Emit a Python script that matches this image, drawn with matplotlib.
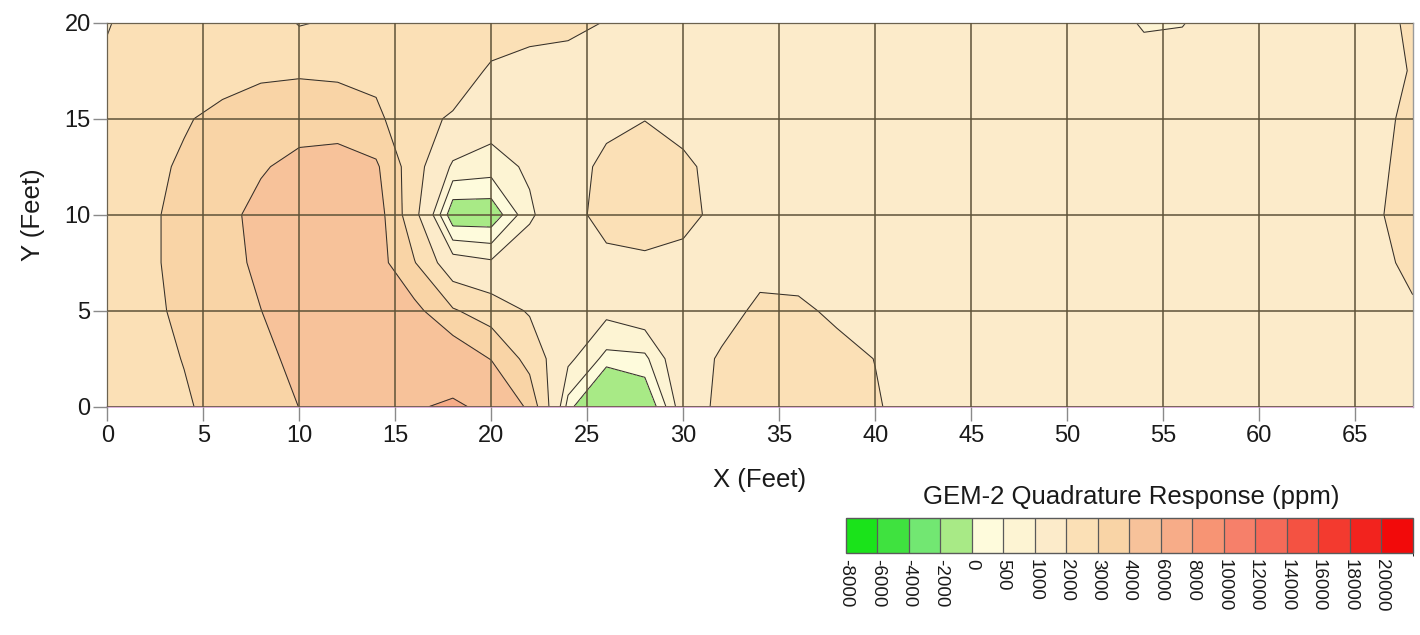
import numpy as np
import matplotlib
matplotlib.use("Agg")
import matplotlib.pyplot as plt
from matplotlib.colors import ListedColormap, BoundaryNorm

plt.rcParams['font.family'] = ['Liberation Sans', 'DejaVu Sans']

# ---------------- data ----------------
# survey grid positions (feet)
x_feet = list(range(0, 69, 2))
y_feet = [0, 2.5, 5, 7.5, 10, 12.5, 15, 17.5, 20]

# GEM-2 quadrature response (ppm), one list per survey line (y), x = 0..68 step 2
q_y00_0 = [2500, 2750, 2930, 3200, 3600, 4010, 4600, 5200, 5850, 6250, 5600, 3718, 300, -1700, -600, 1400,
           2257, 2600, 2700, 2550, 2100, 1600, 1500, 1500, 1500, 1500, 1500, 1500, 1500, 1500, 1500, 1500,
           1550, 1700, 1700]
q_y02_5 = [2400, 2800, 3020, 3400, 3800, 4200, 4600, 5000, 5100, 4850, 3950, 2650, 1140, 350, 380, 1560,
           2100, 2500, 2550, 2350, 1980, 1600, 1500, 1500, 1500, 1500, 1500, 1500, 1500, 1500, 1500, 1500,
           1500, 1700, 1700]
q_y05_0 = [2300, 2820, 3150, 3550, 3990, 4500, 4800, 4700, 4300, 3100, 2500, 1910, 1500, 1150, 1410, 1700,
           1700, 2160, 2200, 1800, 1600, 1500, 1500, 1500, 1500, 1500, 1500, 1500, 1500, 1500, 1500, 1500,
           1500, 1750, 1900]
q_y07_5 = [2250, 2900, 3150, 3650, 4200, 4700, 4800, 4450, 3050, 1300, 1090, 1450, 1600, 1750, 1850, 1700,
           1600, 1740, 1550, 1500, 1500, 1500, 1500, 1500, 1500, 1500, 1500, 1500, 1500, 1500, 1500, 1500,
           1500, 1750, 2200]
q_y10_0 = [2300, 2900, 3150, 3700, 4300, 4800, 4700, 4500, 2300, -400, -380, 890, 1640, 2360, 2450, 2300,
           1700, 1550, 1500, 1500, 1500, 1500, 1500, 1500, 1500, 1500, 1500, 1500, 1500, 1500, 1500, 1500,
           1500, 1800, 2600]
q_y12_5 = [2350, 2800, 3100, 3500, 3900, 4300, 4400, 4150, 2400, 875, 750, 1100, 1500, 2280, 2400, 2170,
           1690, 1500, 1500, 1500, 1500, 1500, 1500, 1500, 1500, 1500, 1500, 1500, 1500, 1500, 1500, 1500,
           1500, 1800, 2300]
q_y15_0 = [2300, 2650, 2930, 3200, 3400, 3550, 3570, 3200, 2330, 1880, 1270, 1400, 1600, 1700, 1980, 1700,
           1550, 1500, 1500, 1500, 1500, 1500, 1500, 1500, 1500, 1500, 1500, 1500, 1500, 1500, 1500, 1500,
           1500, 1750, 2200]
q_y17_5 = [2200, 2450, 2600, 2700, 2860, 2890, 2820, 2750, 2650, 2600, 1850, 1700, 1500, 1500, 1500, 1500,
           1500, 1500, 1500, 1500, 1500, 1500, 1500, 1500, 1500, 1500, 1500, 1500, 1500, 1500, 1500, 1500,
           1500, 1700, 2050]
q_y20_0 = [1930, 2500, 2600, 2600, 2630, 1930, 2130, 2500, 2600, 2650, 2600, 2300, 2300, 1950, 1600, 1500,
           1500, 1500, 1500, 1500, 1500, 1500, 1500, 1500, 1500, 1500, 1500, 875, 950, 1500, 1500, 1500,
           1500, 1700, 2150]

levels = [-8000, -6000, -4000, -2000, 0, 500, 1000, 2000, 3000, 4000, 6000, 8000,
          10000, 12000, 14000, 16000, 18000, 20000, 22000]
level_labels = ['-8000', '-6000', '-4000', '-2000', '0', '500', '1000', '2000', '3000', '4000',
                '6000', '8000', '10000', '12000', '14000', '16000', '18000', '20000']
band_colors = ['#1AE31A', '#3FE23F', '#72E772', '#A8EA86', '#FEFBDC', '#FDF4D3', '#FCEBCA',
               '#FBE0B6', '#F9D4A6', '#F7C29A', '#F7AC88', '#F79474', '#F6806A', '#F56A58',
               '#F45242', '#F33A2F', '#F2231E', '#F20A0A']

Z = np.array([q_y00_0, q_y02_5, q_y05_0, q_y07_5, q_y10_0, q_y12_5, q_y15_0, q_y17_5, q_y20_0], dtype=float)
X, Y = np.meshgrid(np.array(x_feet, dtype=float), np.array(y_feet, dtype=float))

cmap = ListedColormap(band_colors)
norm = BoundaryNorm(levels, cmap.N)

# ---------------- figure ----------------
W, H = 1420, 635
fig = plt.figure(figsize=(W / 100, H / 100), dpi=100)

def px(l, t, r, b):
    return [l / W, 1 - b / H, (r - l) / W, (b - t) / H]

ax = fig.add_axes(px(107.3, 22.7, 1412.7, 406.7))
cf = ax.contourf(X, Y, Z, levels=levels, cmap=cmap, norm=norm, zorder=1)
ax.contour(X, Y, Z, levels=levels, colors='#35302a', linewidths=0.75, zorder=2)

ax.set_xlim(0, 68)
ax.set_ylim(0, 20)
ax.set_xticks(range(0, 66, 5))
ax.set_yticks(range(0, 21, 5))
ax.set_axisbelow(False)
ax.grid(True, color='#5e5238', linewidth=1.1, zorder=3)
ax.tick_params(axis='both', direction='out', length=10, width=1, color='#8a8a8a',
               labelsize=17, labelcolor='#1a1a1a')
ax.tick_params(axis='y', pad=2)
ax.tick_params(axis='x', pad=3)
for side in ['top', 'left', 'right']:
    ax.spines[side].set_color('#9a9a9a')
    ax.spines[side].set_linewidth(1.0)
ax.spines['bottom'].set_color('#d6a6d6')
ax.spines['bottom'].set_linewidth(1.2)

fig.text(760 / W, 1 - 480 / H, 'X (Feet)', ha='center', va='center', fontsize=18.5, color='#1a1a1a')
fig.text(33 / W, 1 - 215 / H, 'Y (Feet)', ha='center', va='center', rotation=90,
         fontsize=18.5, color='#1a1a1a')
fig.text(1131 / W, 1 - 497 / H, 'GEM-2 Quadrature Response (ppm)', ha='center', va='center',
         fontsize=18.5, color='#1a1a1a')

# ---------------- colour scale ----------------
cax = fig.add_axes(px(845.7, 518.3, 1412.7, 553.3))
cb = fig.colorbar(cf, cax=cax, orientation='horizontal', ticks=levels[:-1],
                  spacing='uniform', drawedges=True)
cb.dividers.set_color('#5a5a5a')
cb.dividers.set_linewidth(0.9)
cb.outline.set_edgecolor('#5a5a5a')
cb.outline.set_linewidth(1.0)
cax.set_xticklabels(level_labels, rotation=270, fontsize=13.5, color='#1a1a1a')
cax.tick_params(axis='x', length=0, pad=4)
for lab in cax.get_xticklabels():
    lab.set_verticalalignment('top')
    lab.set_horizontalalignment('center')

fig.savefig('out.png', dpi=100)
